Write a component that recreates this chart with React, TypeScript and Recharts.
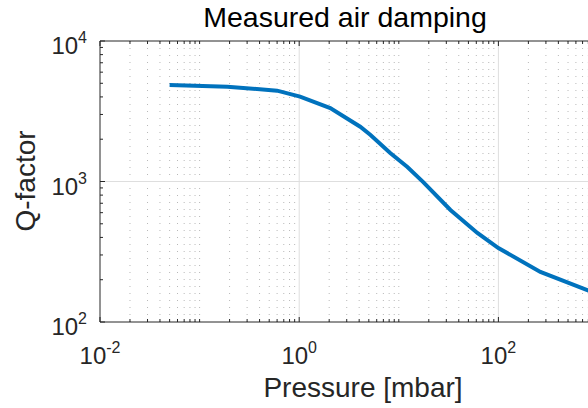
import React from "react";
import { LineChart, Line, XAxis, YAxis, ReferenceLine } from "recharts";

const pressure = [0.05, 0.19, 0.6, 1.02, 2.05, 4.1, 5.2, 8.2, 12.2, 17.6, 33, 61.5, 77.5, 100, 264, 804, 1000];
const qFactor = [4860, 4730, 4430, 4015, 3335, 2455, 2142, 1596, 1268, 991, 627, 430, 383, 336, 227, 167, 158];

const xMajor = [0.01, 1, 100];
const xMajorExp = ["-2", "0", "2"];
const yMajor = [100, 1000, 10000];
const yMajorExp = ["2", "3", "4"];
const xMinor = [
  0.02, 0.03, 0.04, 0.05, 0.06, 0.07, 0.08, 0.09, 0.1,
  0.2, 0.3, 0.4, 0.5, 0.6, 0.7, 0.8, 0.9,
  2, 3, 4, 5, 6, 7, 8, 9, 10,
  20, 30, 40, 50, 60, 70, 80, 90,
  200, 300, 400, 500, 600, 700, 800, 900,
];
const yMinor = [200, 300, 400, 500, 600, 700, 800, 900, 2000, 3000, 4000, 5000, 6000, 7000, 8000, 9000];

const data = pressure.map((p, i) => ({ p, q: qFactor[i] }));

const AXIS = "#262626";
const FONT = "'Liberation Sans', Arial, Helvetica, sans-serif";

function makeTick(side: "bottom" | "top" | "left", majors: number[], exps: string[] | null) {
  return (props: any) => {
    const { x, y, payload } = props;
    const idx = majors.indexOf(payload.value);
    const len = idx >= 0 ? 5 : 3;
    let x2 = x, y2 = y;
    if (side === "bottom") y2 = y - len;
    if (side === "top") y2 = y + len;
    if (side === "left") x2 = x + len;
    let label = null;
    if (exps && idx >= 0) {
      if (side === "bottom") {
        label = (
          <text x={x} y={y + 42} textAnchor="middle" fill={AXIS} fontFamily={FONT} fontSize={24}>
            <tspan>10</tspan>
            <tspan dy={-11} fontSize={16}>{exps[idx]}</tspan>
          </text>
        );
      } else if (side === "left") {
        label = (
          <text x={x - 13} y={y + 13} textAnchor="end" fill={AXIS} fontFamily={FONT} fontSize={24}>
            <tspan>10</tspan>
            <tspan dy={-11} fontSize={16}>{exps[idx]}</tspan>
          </text>
        );
      }
    }
    return (
      <g>
        <line x1={x} y1={y} x2={x2} y2={y2} stroke={AXIS} strokeWidth={1} />
        {label}
      </g>
    );
  };
}

export default function App() {
  return (
    <div
      style={{
        position: "fixed",
        left: 0,
        top: 0,
        width: 588,
        height: 408,
        overflow: "hidden",
        background: "#fff",
      }}
    >
      <LineChart
        width={630}
        height={408}
        data={data}
        margin={{ top: 40, left: 99, right: 32, bottom: 85 }}
      >
        {xMinor.map((v) => (
          <ReferenceLine key={"gx" + v} x={v} stroke="#b8b8b8" strokeDasharray="1 6" />
        ))}
        <ReferenceLine x={1} stroke="#dedede" />
        <ReferenceLine x={100} stroke="#dedede" />
        <ReferenceLine y={1000} stroke="#dedede" />
        <XAxis
          dataKey="p"
          type="number"
          scale="log"
          domain={[0.01, 1000]}
          allowDataOverflow
          ticks={[...xMajor, ...xMinor]}
          interval={0}
          height={1}
          tickSize={0}
          tickMargin={0}
          axisLine={{ stroke: AXIS }}
          tickLine={false}
          tick={makeTick("bottom", xMajor, xMajorExp)}
        />
        <XAxis
          xAxisId="top"
          orientation="top"
          dataKey="p"
          type="number"
          scale="log"
          domain={[0.01, 1000]}
          allowDataOverflow
          ticks={[...xMajor, ...xMinor]}
          interval={0}
          height={1}
          tickSize={0}
          tickMargin={0}
          axisLine={{ stroke: AXIS }}
          tickLine={false}
          tick={makeTick("top", xMajor, null)}
        />
        <YAxis
          dataKey="q"
          type="number"
          scale="log"
          domain={[100, 10000]}
          allowDataOverflow
          ticks={[...yMajor, ...yMinor]}
          interval={0}
          width={1}
          tickSize={0}
          tickMargin={0}
          axisLine={{ stroke: AXIS }}
          tickLine={false}
          tick={makeTick("left", yMajor, yMajorExp)}
        />
        <Line
          dataKey="q"
          stroke="#0072BD"
          strokeWidth={4}
          dot={false}
          isAnimationActive={false}
        />
        <text x={345} y={27} textAnchor="middle" fill="#000" fontFamily={FONT} fontSize={28.5}>
          Measured air damping
        </text>
        <text x={363} y={397} textAnchor="middle" fill={AXIS} fontFamily={FONT} fontSize={28}>
          Pressure [mbar]
        </text>
        <text
          x={0}
          y={0}
          transform="translate(35 181) rotate(-90)"
          textAnchor="middle"
          fill={AXIS}
          fontFamily={FONT}
          fontSize={28}
        >
          Q-factor
        </text>
      </LineChart>
    </div>
  );
}
